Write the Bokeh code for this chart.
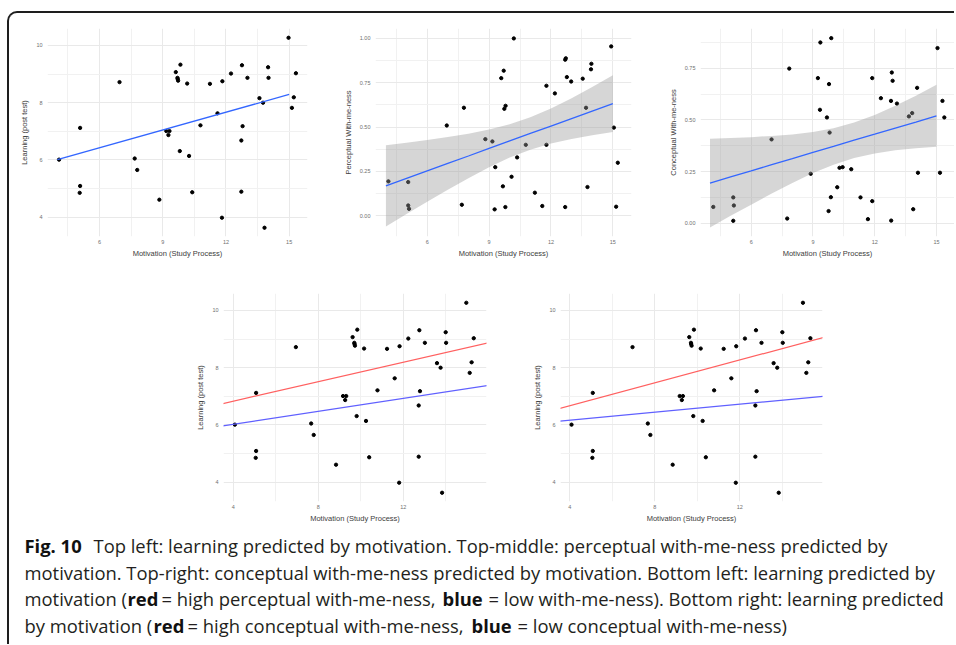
from bokeh.plotting import figure
from bokeh.layouts import column, row, Spacer
from bokeh.models import Range1d, FixedTicker, Slope, NumeralTickFormatter
from bokeh.embed import file_html
from bokeh.resources import INLINE
from bokeh.core.properties import value

# ---------------- data ----------------
# Learning (post test) vs Motivation (jittered x), used in panels 1, 4, 5
mot_x = [4.08, 5.08, 5.08, 5.06, 6.95, 7.67, 7.79, 8.84, 9.62, 9.84, 9.70, 9.71, 9.73, 10.16,
         9.17, 9.32, 9.27, 9.81, 10.25, 10.40, 10.79, 11.24, 11.60, 11.83, 12.24, 11.81, 12.76,
         13.02, 12.79, 12.73, 12.73, 13.59, 13.76, 14.00, 14.02, 13.83, 14.97, 15.22, 15.13, 15.32]
learning = [6.01, 7.12, 5.09, 4.85, 8.72, 6.05, 5.65, 4.61, 9.07, 9.33, 8.87, 8.83, 8.77, 8.67,
            7.01, 7.01, 6.87, 6.31, 6.14, 4.87, 7.21, 8.66, 7.63, 8.75, 9.02, 3.98, 9.31,
            8.87, 7.18, 6.68, 4.89, 8.16, 8.00, 9.24, 8.87, 3.63, 10.27, 8.19, 7.82, 9.03]

# Perceptual with-me-ness vs Motivation
perc_x = [4.12, 5.08, 5.08, 5.12, 6.95, 7.68, 7.78, 8.82, 9.16, 9.30, 9.27, 9.59, 9.71, 9.74,
          9.80, 9.67, 9.79, 10.09, 10.20, 10.36, 10.78, 11.22, 11.58, 11.78, 11.78, 12.19, 12.69,
          12.72, 12.77, 12.69, 12.98, 13.54, 13.70, 13.77, 13.94, 13.96, 14.92, 15.05, 15.16, 15.24]
perceptual = [0.194, 0.190, 0.058, 0.039, 0.509, 0.062, 0.609, 0.432, 0.419, 0.274, 0.036, 0.776,
              0.818, 0.603, 0.620, 0.166, 0.049, 0.220, 1.000, 0.329, 0.400, 0.130, 0.055, 0.733,
              0.400, 0.690, 0.880, 0.888, 0.782, 0.049, 0.757, 0.773, 0.609, 0.162, 0.826, 0.857,
              0.955, 0.497, 0.051, 0.299]

# Conceptual with-me-ness vs Motivation
conc_x = [4.16, 5.13, 5.16, 5.13, 6.99, 7.75, 7.85, 8.89, 9.24, 9.36, 9.34, 9.68, 9.76, 9.78,
          9.81, 9.87, 9.89, 10.18, 10.29, 10.44, 10.86, 11.31, 11.67, 11.88, 11.88, 12.30, 12.79,
          12.83, 12.87, 12.80, 13.08, 13.66, 13.82, 13.87, 14.06, 14.10, 15.05, 15.17, 15.29, 15.38]
conceptual = [0.080, 0.126, 0.087, 0.013, 0.406, 0.024, 0.748, 0.240, 0.702, 0.874, 0.549, 0.512,
              0.060, 0.673, 0.439, 0.127, 0.895, 0.175, 0.269, 0.272, 0.262, 0.126, 0.021, 0.108,
              0.702, 0.605, 0.592, 0.729, 0.689, 0.014, 0.579, 0.517, 0.533, 0.069, 0.655, 0.245,
              0.847, 0.245, 0.592, 0.512]

# fitted lines / confidence bands
fit_x = [4, 15]
learn_fit = [6.01, 8.29]
band_x = [4, 5, 6, 7, 8, 9, 10, 11, 12, 13, 14, 15]
perc_fit = [0.169, 0.211, 0.253, 0.295, 0.337, 0.380, 0.422, 0.464, 0.506, 0.548, 0.590, 0.632]
perc_lo = [-0.060, 0.010, 0.079, 0.146, 0.212, 0.274, 0.328, 0.372, 0.407, 0.433, 0.454, 0.472]
perc_hi = [0.398, 0.412, 0.427, 0.444, 0.462, 0.486, 0.516, 0.556, 0.605, 0.663, 0.726, 0.792]
conc_fit = [0.195, 0.225, 0.254, 0.284, 0.313, 0.343, 0.372, 0.402, 0.431, 0.461, 0.490, 0.520]
conc_lo = [-0.019, 0.037, 0.091, 0.145, 0.196, 0.244, 0.284, 0.316, 0.338, 0.354, 0.363, 0.370]
conc_hi = [0.409, 0.413, 0.417, 0.423, 0.430, 0.442, 0.460, 0.488, 0.524, 0.568, 0.617, 0.670]

# moderation lines (slope, intercept): high = red, low = blue
perc_high = (0.170, 6.15)
perc_low = (0.113, 5.57)
conc_high = (0.200, 5.87)
conc_low = (0.0696, 5.89)

# ticks
top_xticks = [6, 9, 12, 15]
top_xminor = [4.5, 7.5, 10.5, 13.5]
bot_xticks = [4, 8, 12]
bot_xminor = [6, 10, 14]
learn_yticks = [4, 6, 8, 10]
learn_yminor = [5, 7, 9]
perc_yticks = [0.0, 0.25, 0.5, 0.75, 1.0]
conc_yticks = [0.0, 0.25, 0.5, 0.75]
wmn_yminor = [0.125, 0.375, 0.625, 0.875]

XLABEL = "Motivation (Study Process)"
AXFONT = "Liberation Sans"
BLUE = "#3366FF"


def panel(xr, yr, xt, xm, yt, ym, ylabel, fw, fh, mbl, mbr, mbt, mbb, yfmt=None):
    p = figure(x_range=Range1d(*xr), y_range=Range1d(*yr), frame_width=fw, frame_height=fh,
               min_border_left=mbl, min_border_right=mbr, min_border_top=mbt,
               min_border_bottom=mbb, output_backend="svg", toolbar_location=None,
               background_fill_color=None, border_fill_color=None, outline_line_color=None)
    p.xaxis.ticker = FixedTicker(ticks=xt, minor_ticks=xm)
    p.yaxis.ticker = FixedTicker(ticks=yt, minor_ticks=ym)
    if yfmt:
        p.yaxis.formatter = NumeralTickFormatter(format=yfmt)
    p.xaxis.axis_label = XLABEL
    p.yaxis.axis_label = ylabel
    for ax in (p.xaxis[0], p.yaxis[0]):
        ax.axis_line_color = None
        ax.major_tick_line_color = None
        ax.minor_tick_line_color = None
        ax.major_tick_out = 0
        ax.major_tick_in = 0
        ax.minor_tick_out = 0
        ax.minor_tick_in = 0
        ax.major_label_text_font = AXFONT
        ax.major_label_text_font_size = "5.5px"
        ax.major_label_text_color = "#6f6f6f"
        ax.axis_label_text_font = AXFONT
        ax.axis_label_text_font_size = "7.5px"
        ax.axis_label_text_font_style = "normal"
        ax.axis_label_text_color = "#3c3c3c"
    p.xaxis.major_label_standoff = 3
    p.xaxis.axis_label_standoff = 2
    p.yaxis.major_label_standoff = 5
    p.yaxis.axis_label_standoff = 4
    for g in (p.xgrid[0], p.ygrid[0]):
        g.grid_line_color = "#e9e9e9"
        g.grid_line_width = 1
        g.minor_grid_line_color = "#f1f1f1"
        g.minor_grid_line_width = 1
    return p


PT = 3.3

# top left
p1 = panel((3.532, 15.87), (3.324, 10.594), top_xticks, top_xminor, learn_yticks, learn_yminor,
           "Learning (post test)", 260, 208, 38, 10, 15, 26)
p1.scatter(mot_x, learning, size=PT, color="black")
p1.line(fit_x, learn_fit, line_color=BLUE, line_width=1.3)

# top middle
p2 = panel((3.495, 15.904), (-0.117, 1.056), top_xticks, top_xminor, perc_yticks, wmn_yminor,
           "Perceptual With-me-ness", 256, 208, 58, 10, 15, 26, "0.00")
p2.scatter(perc_x, perceptual, size=PT, color="black")
p2.varea(x=band_x, y1=perc_lo, y2=perc_hi, fill_color="#999999", fill_alpha=0.4)
p2.line(band_x, perc_fit, line_color=BLUE, line_width=1.3)

# top right
p3 = panel((3.539, 15.875), (-0.0628, 0.9415), top_xticks, top_xminor, conc_yticks, wmn_yminor,
           "Conceptual With-me-ness", 254, 208, 59, 0, 15, 26, "0.00")
p3.scatter(conc_x, conceptual, size=PT, color="black")
p3.varea(x=band_x, y1=conc_lo, y2=conc_hi, fill_color="#999999", fill_alpha=0.4)
p3.line(band_x, conc_fit, line_color=BLUE, line_width=1.3)

RED_L = "#ff6060"
BLUE_L = "#6060ff"

# bottom left
p4 = panel((3.545, 15.92), (3.324, 10.594), bot_xticks, bot_xminor, learn_yticks, learn_yminor,
           "Learning (post test)", 263, 208, 40, 34, 31, 23)
p4.scatter(mot_x, learning, size=PT, color="black")
p4.add_layout(Slope(gradient=perc_high[0], y_intercept=perc_high[1], line_color=RED_L, line_width=1.2))
p4.add_layout(Slope(gradient=perc_low[0], y_intercept=perc_low[1], line_color=BLUE_L, line_width=1.2))

# bottom right
p5 = panel((3.561, 15.89), (3.324, 10.594), bot_xticks, bot_xminor, learn_yticks, learn_yminor,
           "Learning (post test)", 262, 208, 40, 10, 31, 23)
p5.scatter(mot_x, learning, size=PT, color="black")
p5.add_layout(Slope(gradient=conc_high[0], y_intercept=conc_high[1], line_color=RED_L, line_width=1.2))
p5.add_layout(Slope(gradient=conc_low[0], y_intercept=conc_low[1], line_color=BLUE_L, line_width=1.2))

# caption
CW, CH = 940, 119
cap = figure(frame_width=CW, frame_height=CH, x_range=Range1d(0, CW), y_range=Range1d(CH, 0),
             min_border=0, x_axis_type=None, y_axis_type=None, output_backend="svg",
             toolbar_location=None, outline_line_color=None, background_fill_color=None,
             border_fill_color=None)
cap.grid.visible = False

CAPFONT = value("Open Sans")
FS = "18.4px"
TXT = "#231f20"
L1, L2, L3, L4 = 20, 46.7, 73.3, 100

norm_t = ["Top left: learning predicted by motivation. Top-middle: perceptual with-me-ness predicted by",
          "motivation. Top-right: conceptual with-me-ness predicted by motivation. Bottom left: learning predicted by",
          "motivation (",
          "= high perceptual with-me-ness,",
          "= low with-me-ness). Bottom right: learning predicted",
          "by motivation (",
          "= high conceptual with-me-ness,",
          "= low conceptual with-me-ness)"]
norm_x = [84, 15, 15, 152, 479, 15, 178, 508]
norm_y = [L1, L2, L3, L3, L3, L4, L4, L4]

bold_t = ["Fig. 10", "red", "blue", "red", "blue"]
bold_x = [15, 118, 433, 144, 462]
bold_y = [L1, L3, L3, L4, L4]

cap.text(norm_x, norm_y, text=norm_t, text_font=CAPFONT, text_font_size=FS,
         text_color=TXT, text_baseline="alphabetic", text_align="left")
cap.text(bold_x, bold_y, text=bold_t, text_font=CAPFONT, text_font_size=FS,
         text_font_style="bold", text_color="#111111", text_baseline="alphabetic", text_align="left")

top = row(p1, p2, p3)
bottom = row(Spacer(width=174, height=262), p4, p5)
layout = column(top, bottom, cap,
                styles={"border-left": "2px solid #1e1e1e", "border-top": "2px solid #1e1e1e",
                        "border-top-left-radius": "10px", "margin-top": "11px",
                        "margin-left": "7px"})

open("out.html", "w").write(file_html(layout, INLINE))
